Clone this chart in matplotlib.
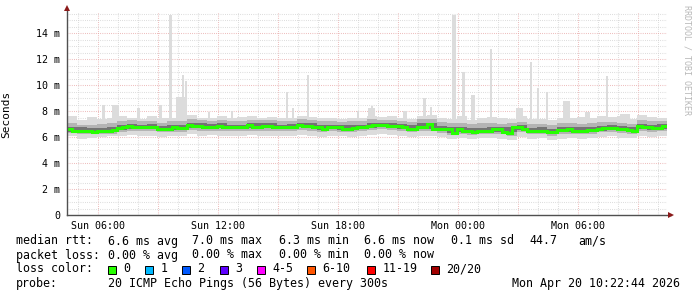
import matplotlib
matplotlib.use("Agg")
import matplotlib.pyplot as plt  # noqa: E402
from matplotlib.patches import Rectangle  # noqa: E402
import numpy as np  # noqa: E402

W, H = 697, 297
T0 = 4.45          # left edge of graph: Sun 04:27 (hours since Sun 00:00)
T1 = T0 + 30.0     # right edge: Mon 10:27

# median rtt (ms), one value per 15 min
median_rtt = [
    6.6, 6.5, 6.45, 6.5, 6.5, 6.4, 6.45, 6.45, 6.5, 6.55,
    6.7, 6.75, 6.85, 6.75, 6.75, 6.75, 6.75, 6.8, 6.6, 6.6,
    6.65, 6.75, 6.7, 6.7, 6.9, 6.85, 6.85, 6.8, 6.8, 6.8,
    6.85, 6.8, 6.75, 6.75, 6.75, 6.75, 6.95, 6.8, 6.8, 6.85,
    6.85, 6.8, 6.75, 6.75, 6.8, 6.8, 6.95, 6.85, 6.85, 6.8,
    6.8, 6.6, 6.75, 6.75, 6.75, 6.65, 6.65, 6.7, 6.75, 6.75,
    6.85, 6.9, 6.9, 6.9, 6.85, 6.85, 6.85, 6.75, 6.65, 6.65,
    6.8, 6.8, 7.0, 6.65, 6.6, 6.6, 6.6, 6.3, 6.65, 6.5,
    6.5, 6.4, 6.45, 6.5, 6.5, 6.6, 6.6, 6.4, 6.3, 6.75,
    6.8, 6.6, 6.45, 6.5, 6.5, 6.5, 6.4, 6.4, 6.55, 6.55,
    6.6, 6.5, 6.5, 6.5, 6.55, 6.55, 6.6, 6.7, 6.7, 6.7,
    6.6, 6.6, 6.55, 6.5, 6.85, 6.75, 6.75, 6.7, 6.7, 6.85,
]

# smoke (ping spread, ms), one value per 30 min
rtt_min = [
    6.05, 5.85, 5.9, 6.0, 6.05, 6.1, 6.15, 6.05, 6.1, 6.0,
    6.1, 6.05, 6.2, 6.1, 6.15, 6.1, 6.05, 6.1, 6.15, 6.1,
    6.1, 6.05, 6.1, 6.15, 6.1, 6.0, 6.1, 6.05, 6.0, 6.1,
    6.15, 6.2, 6.15, 6.1, 6.0, 6.1, 6.1, 6.0, 5.85, 5.9,
    5.85, 5.9, 5.95, 5.85, 5.8, 6.0, 5.85, 5.9, 5.8, 5.85,
    5.95, 5.85, 5.9, 6.0, 6.05, 5.95, 5.9, 6.05, 6.0, 6.1,
]
rtt_p10 = [
    6.3, 6.2, 6.2, 6.2, 6.25, 6.4, 6.5, 6.45, 6.5, 6.35,
    6.4, 6.4, 6.55, 6.5, 6.5, 6.5, 6.45, 6.45, 6.5, 6.5,
    6.5, 6.45, 6.5, 6.55, 6.5, 6.4, 6.45, 6.4, 6.4, 6.45,
    6.55, 6.6, 6.55, 6.5, 6.35, 6.5, 6.45, 6.3, 6.15, 6.25,
    6.15, 6.2, 6.25, 6.2, 6.1, 6.35, 6.2, 6.2, 6.1, 6.25,
    6.25, 6.2, 6.25, 6.35, 6.4, 6.3, 6.2, 6.45, 6.4, 6.45,
]
rtt_p25 = [
    6.42, 6.35, 6.32, 6.32, 6.38, 6.57, 6.65, 6.6, 6.63, 6.47,
    6.55, 6.55, 6.72, 6.67, 6.65, 6.67, 6.6, 6.6, 6.7, 6.67,
    6.67, 6.6, 6.65, 6.75, 6.67, 6.55, 6.6, 6.55, 6.53, 6.6,
    6.72, 6.75, 6.7, 6.65, 6.5, 6.65, 6.65, 6.45, 6.3, 6.42,
    6.3, 6.33, 6.4, 6.35, 6.35, 6.55, 6.33, 6.35, 6.25, 6.4,
    6.4, 6.35, 6.4, 6.5, 6.55, 6.45, 6.37, 6.62, 6.57, 6.62,
]
rtt_p75 = [
    6.8, 6.75, 6.7, 6.7, 6.75, 6.95, 7.0, 6.95, 7.0, 6.85,
    6.95, 6.9, 7.1, 7.05, 7.0, 7.05, 6.95, 6.95, 7.05, 7.05,
    7.05, 6.95, 7.0, 7.1, 7.05, 6.95, 6.95, 6.9, 6.9, 6.95,
    7.1, 7.1, 7.05, 7.0, 6.9, 7.05, 7.1, 6.85, 6.75, 6.8,
    6.7, 6.7, 6.8, 6.75, 6.8, 6.9, 6.7, 6.75, 6.65, 6.8,
    6.75, 6.75, 6.8, 6.85, 6.9, 6.85, 6.75, 7.0, 6.95, 7.0,
]
rtt_p90 = [
    7.1, 6.95, 6.95, 7.0, 7.05, 7.2, 7.3, 7.2, 7.25, 7.1,
    7.2, 7.25, 7.35, 7.3, 7.25, 7.3, 7.2, 7.25, 7.3, 7.3,
    7.3, 7.2, 7.25, 7.35, 7.3, 7.2, 7.2, 7.15, 7.2, 7.25,
    7.35, 7.3, 7.3, 7.25, 7.15, 7.35, 7.4, 7.15, 7.05, 7.1,
    7.0, 7.05, 7.05, 7.0, 7.05, 7.15, 7.0, 7.0, 6.95, 7.05,
    7.05, 7.0, 7.05, 7.15, 7.15, 7.1, 7.0, 7.3, 7.2, 7.25,
]
rtt_max = [
    7.6, 7.3, 7.55, 7.4, 7.45, 7.6, 7.5, 7.4, 7.6, 7.45,
    7.5, 7.6, 7.7, 7.5, 7.45, 7.6, 7.5, 7.55, 7.6, 7.5,
    7.55, 7.45, 7.5, 7.6, 7.55, 7.45, 7.5, 7.4, 7.45, 7.5,
    7.6, 7.55, 7.6, 7.5, 7.4, 7.6, 7.7, 7.5, 7.4, 7.6,
    7.3, 7.5, 7.55, 7.45, 7.4, 7.6, 7.4, 7.35, 7.3, 7.5,
    7.45, 7.55, 7.5, 7.6, 7.55, 7.6, 7.4, 7.7, 7.55, 7.45,
]

# isolated max-rtt spikes: start hour, end hour, peak (ms)
spike_start = [6.20, 6.70, 7.95, 9.05, 9.55, 9.90, 10.20, 10.35, 11.50, 12.65,
               15.40, 15.70, 16.45, 18.95, 19.50, 19.65, 21.25, 22.25, 22.60,
               23.68, 24.20, 24.65, 25.60, 26.90, 27.60, 27.95, 28.40, 29.25,
               30.35, 31.40, 32.10]
spike_end = [6.35, 7.05, 8.10, 9.20, 9.70, 10.45, 10.30, 10.45, 11.60, 12.75,
             15.50, 15.80, 16.55, 19.05, 19.85, 19.75, 21.45, 22.40, 22.70,
             23.88, 24.35, 24.85, 25.70, 27.25, 27.70, 28.05, 28.50, 29.60,
             30.60, 31.50, 32.60]
spike_peak = [8.5, 8.5, 8.2, 8.5, 15.4, 9.1, 10.8, 10.3, 7.9, 8.0,
              9.5, 8.2, 10.8, 8.0, 8.2, 8.4, 8.0, 9.0, 8.3,
              15.4, 11.0, 9.2, 12.8, 8.2, 11.8, 9.8, 9.5, 8.8,
              7.9, 10.7, 7.8]

xtick_hours = [6, 12, 18, 24, 30]
xtick_labels = ["Sun 06:00", "Sun 12:00", "Sun 18:00", "Mon 00:00", "Mon 06:00"]
ytick_vals = [0, 2, 4, 6, 8, 10, 12, 14]
ytick_labels = ["0", "2 m", "4 m", "6 m", "8 m", "10 m", "12 m", "14 m"]

loss_labels = ["0", "1", "2", "3", "4-5", "6-10", "11-19", "20/20"]
loss_colors = ["#26ff00", "#00b8ff", "#0059ff", "#5e00ff",
               "#ff00ff", "#ff5500", "#ff0000", "#a10000"]

MONO = "DejaVu Sans Mono"
plt.rcParams["font.family"] = MONO

fig = plt.figure(figsize=(W / 100, H / 100), dpi=100)
ax = fig.add_axes([67 / W, 82 / H, 600 / W, 202 / H])
ax.set_xlim(T0, T1)
ax.set_ylim(0, 202 / 13)

# grid: gray every hour / 0.5 ms, red every 3 hours / 2 ms
dots = (0, (0.7, 1.4))
for h in range(5, 35):
    c = "#e8a8a8" if h % 3 == 0 else "#d2d2d2"
    ax.axvline(h, color=c, lw=0.75, ls=dots, zorder=0)
for k in range(1, 32):
    v = k * 0.5
    c = "#e8a8a8" if v % 2 == 0 else "#d2d2d2"
    ax.axhline(v, color=c, lw=0.75, ls=dots, zorder=0)

# smoke
med_edges = T0 + 0.25 * np.arange(len(median_rtt) + 1)
band_edges = T0 + 0.5 * np.arange(len(rtt_min) + 1)
for s, e, p in zip(spike_start, spike_end, spike_peak):
    ax.bar(s, p - 6.5, bottom=6.5, width=e - s, align="edge",
           color="#dcdcdc", lw=0, zorder=1)
ax.stairs(rtt_max, band_edges, baseline=rtt_min, fill=True,
          color="#dcdcdc", lw=0, zorder=2)
ax.stairs(rtt_p90, band_edges, baseline=rtt_p10, fill=True,
          color="#b4b4b4", lw=0, zorder=3)
ax.stairs(rtt_p75, band_edges, baseline=rtt_p25, fill=True,
          color="#747474", lw=0, zorder=4)
ax.stairs(median_rtt, med_edges, baseline=None, color="#26ff00", lw=2.2,
          zorder=5)

# axes
for sp in ["top", "right", "left", "bottom"]:
    ax.spines[sp].set_visible(False)
ax.plot([0, 1.006], [0, 0], color="#505050", lw=1.0,
        transform=ax.transAxes, clip_on=False, zorder=6)
ax.plot([0, 0], [0, 1.02], color="#505050", lw=1.0,
        transform=ax.transAxes, clip_on=False, zorder=6)
ax.plot([1.007], [0], marker=">", ms=4, color="#8b1a1a", mew=0,
        transform=ax.transAxes, clip_on=False, zorder=7)
ax.plot([0], [1.027], marker="^", ms=4, color="#8b1a1a", mew=0,
        transform=ax.transAxes, clip_on=False, zorder=7)

ax.set_xticks(xtick_hours)
ax.set_xticklabels(xtick_labels, fontsize=7.2)
ax.set_yticks(ytick_vals)
ax.set_yticklabels(ytick_labels, fontsize=7.2)
ax.tick_params(length=0, colors="#000000")
ax.tick_params(axis="x", pad=4)
ax.tick_params(axis="y", pad=5)
ax.set_ylabel("Seconds", fontsize=8)
ax.yaxis.set_label_coords(-56 / 600, 0.5)

fig.text(687 / W, 1 - 60 / H, "RRDTOOL / TOBI OETIKER", rotation=-90,
         fontsize=6, color="#b8b8b8", ha="center", va="center")


def put(xp, yp, s):
    fig.text(xp / W, 1 - yp / H, s, fontsize=8.4, ha="left", va="center")


put(16, 241, "median rtt:")
for xp, s in zip([107.6, 192.4, 279, 364.4, 451, 529, 578],
                 ["6.6 ms avg", "7.0 ms max", "6.3 ms min", "6.6 ms now",
                  "0.1 ms sd", "44.7", "am/s"]):
    put(xp, 241, s)

put(16, 255, "packet loss:")
for xp, s in zip([107.6, 192.4, 279, 364.4],
                 ["0.00 % avg", "0.00 % max", "0.00 % min", "0.00 % now"]):
    put(xp, 255, s)

put(16, 269, "loss color:")
sq_x = [108, 145, 182, 220, 257, 307, 367, 431]
for xp, lab, col in zip(sq_x, loss_labels, loss_colors):
    fig.add_artist(Rectangle((xp / W, 1 - 273.5 / H), 8 / W, 8 / H,
                             transform=fig.transFigure, facecolor=col,
                             edgecolor="black", lw=0.7))
    put(xp + 15.5, 269, lab)

put(16, 283, "probe:")
put(107.6, 283, "20 ICMP Echo Pings (56 Bytes) every 300s")
put(512.5, 283, "Mon Apr 20 10:22:44 2026")

fig.savefig("out.png", dpi=100, facecolor="white")
